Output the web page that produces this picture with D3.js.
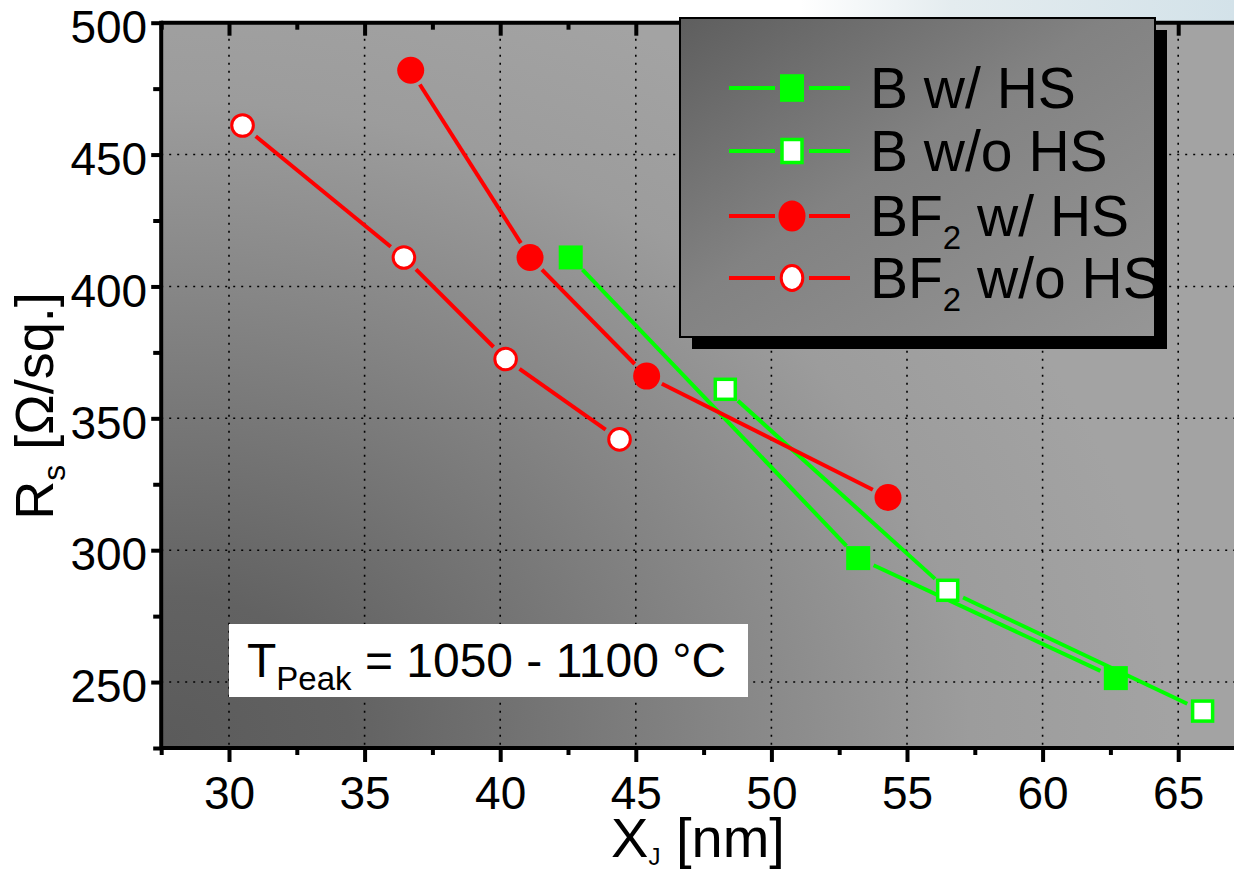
<!DOCTYPE html>
<html lang="en">
<head>
  <meta charset="UTF-8">
  <title>Sheet resistance vs junction depth</title>
  <script src="https://d3js.org/d3.v7.min.js"></script>
  <style>
    body { margin: 0; background: #fff; }
    svg { display: block; }
    text { font-family: "Liberation Sans", Arial, sans-serif; fill: #000; }
  </style>
</head>
<body>
  <svg width="1234" height="869"></svg>

  <script>
    // data
    const seriesNames = ["B w/ HS", "B w/o HS", "BF2 w/ HS", "BF2 w/o HS"];
    const bWithX = [42.6, 53.2, 62.7];
    const bWithY = [411, 297, 251.5];
    const bWithoutX = [48.3, 56.5, 65.9];
    const bWithoutY = [361, 284.8, 239];
    const bf2WithX = [36.7, 41.1, 45.4, 54.3];
    const bf2WithY = [482, 411, 366, 320];
    const bf2WithoutX = [30.5, 36.45, 40.2, 44.4];
    const bf2WithoutY = [461, 411, 372.5, 342];

    const xTicks = [30, 35, 40, 45, 50, 55, 60, 65];
    const xMinor = [27.5, 32.5, 37.5, 42.5, 47.5, 52.5, 57.5, 62.5, 67.5];
    const yTicks = [250, 300, 350, 400, 450, 500];
    const yMinor = [225, 275, 325, 375, 425, 475];
    const yGrid = [250, 300, 350, 400, 450];

    const RED = "#ff0000", GREEN = "#00ff00";
    const series = [
      { name: seriesNames[0], xs: bWithX, ys: bWithY, color: GREEN, shape: "square", filled: true },
      { name: seriesNames[1], xs: bWithoutX, ys: bWithoutY, color: GREEN, shape: "square", filled: false },
      { name: seriesNames[2], xs: bf2WithX, ys: bf2WithY, color: RED, shape: "circle", filled: true },
      { name: seriesNames[3], xs: bf2WithoutX, ys: bf2WithoutY, color: RED, shape: "circle", filled: false }
    ];

    const svg = d3.select("svg");
    const x = d3.scaleLinear().domain([27.5, 67.5]).range([161.2, 1246]);
    const y = d3.scaleLinear().domain([225, 500]).range([748, 22.7]);

    const defs = svg.append("defs");
    const bg = defs.append("radialGradient").attr("id", "bg")
      .attr("gradientUnits", "userSpaceOnUse")
      .attr("cx", 170).attr("cy", 740).attr("r", 800)
      .attr("gradientTransform", "translate(170,740) scale(1.25,1) translate(-170,-740)");
    [[0, "#5b5b5b"], [0.18, "#626262"], [0.55, "#858585"], [0.8, "#9c9c9c"], [1, "#a3a3a3"]]
      .forEach(s => bg.append("stop").attr("offset", s[0]).attr("stop-color", s[1]));
    const lg = defs.append("linearGradient").attr("id", "lg")
      .attr("x1", 0).attr("y1", 0).attr("x2", 1).attr("y2", 1);
    [[0, "#5e5e5e"], [0.45, "#828282"], [1, "#969696"]]
      .forEach(s => lg.append("stop").attr("offset", s[0]).attr("stop-color", s[1]));
    const sky = defs.append("linearGradient").attr("id", "sky");
    [[0, "#ffffff"], [0.35, "#e4ecef"], [1, "#d3e2e9"]]
      .forEach(s => sky.append("stop").attr("offset", s[0]).attr("stop-color", s[1]));

    svg.append("rect").attr("x", 800).attr("y", 0).attr("width", 434).attr("height", 24)
      .attr("fill", "url(#sky)");

    // plot background
    svg.append("rect")
      .attr("x", x(27.5)).attr("y", y(500))
      .attr("width", x(67.5) - x(27.5)).attr("height", y(225) - y(500))
      .attr("fill", "url(#bg)");

    // dotted grid
    const grid = svg.append("g").attr("stroke", "#000").attr("stroke-width", 1.6)
      .attr("stroke-dasharray", "2,6");
    grid.selectAll(".gx").data(xTicks).enter().append("line")
      .attr("x1", d => x(d)).attr("x2", d => x(d))
      .attr("y1", y(500)).attr("y2", y(225));
    grid.selectAll(".gy").data(yGrid).enter().append("line")
      .attr("x1", x(27.5)).attr("x2", x(67.5))
      .attr("y1", d => y(d)).attr("y2", d => y(d));

    // temperature note
    svg.append("rect").attr("x", x(30)).attr("y", 624).attr("width", 519).attr("height", 73)
      .attr("fill", "#fff");
    const note = svg.append("text").attr("x", 247).attr("y", 677).style("font-size", "48px");
    note.append("tspan").text("T");
    note.append("tspan").attr("dy", 13).style("font-size", "33px").text("Peak");
    note.append("tspan").attr("dy", -13).text(" = 1050 - 1100 °C");

    // lines with a small gap at each marker
    const GAP = 17;
    function segments(s) {
      const pts = s.xs.map((v, i) => [x(v), y(s.ys[i])]);
      const out = [];
      for (let i = 0; i < pts.length - 1; i++) {
        const [x1, y1] = pts[i], [x2, y2] = pts[i + 1];
        const len = Math.hypot(x2 - x1, y2 - y1);
        const ux = (x2 - x1) / len, uy = (y2 - y1) / len;
        out.push([x1 + ux * GAP, y1 + uy * GAP, x2 - ux * GAP, y2 - uy * GAP]);
      }
      return out;
    }

    function marker(g, s, cx, cy, sy = 1) {
      if (s.shape === "square") {
        if (s.filled) {
          g.append("rect").attr("x", cx - 12).attr("y", cy - 12 * sy).attr("width", 24).attr("height", 24 * sy)
            .attr("fill", s.color);
        } else {
          g.append("rect").attr("x", cx - 10).attr("y", cy - 10 * sy).attr("width", 20).attr("height", 20 * sy)
            .attr("fill", "#fff").attr("stroke", s.color).attr("stroke-width", 3.5);
        }
      } else {
        if (s.filled) {
          g.append("ellipse").attr("cx", cx).attr("cy", cy).attr("rx", 13.5).attr("ry", 13.5 * sy)
            .attr("fill", s.color);
        } else {
          g.append("ellipse").attr("cx", cx).attr("cy", cy).attr("rx", 10.8).attr("ry", 10.8 * sy)
            .attr("fill", "#fff").attr("stroke", s.color).attr("stroke-width", 3);
        }
      }
    }

    const plot = svg.append("g");
    series.forEach(s => {
      plot.selectAll(null).data(segments(s)).enter().append("line")
        .attr("x1", d => d[0]).attr("y1", d => d[1]).attr("x2", d => d[2]).attr("y2", d => d[3])
        .attr("stroke", s.color).attr("stroke-width", 4);
    });
    series.forEach(s => {
      s.xs.forEach((v, i) => marker(plot, s, x(v), y(s.ys[i])));
    });

    // axes
    const axisStyle = g => {
      g.select(".domain").remove();
      g.selectAll("line").attr("stroke", "#000").attr("stroke-width", 4);
      g.selectAll("text").style("font-size", "46px").attr("fill", "#000");
    };

    svg.append("g").attr("transform", `translate(${x(27.5)},0)`)
      .call(d3.axisLeft(y).tickValues(yTicks).tickSize(10).tickPadding(4).tickFormat(d3.format("d")))
      .call(axisStyle)
      .call(g => g.selectAll("text").attr("dy", "0.43em").attr("font-family", null));
    svg.append("g").attr("transform", `translate(${x(27.5)},0)`)
      .call(d3.axisLeft(y).tickValues(yMinor).tickSize(8).tickFormat(""))
      .call(axisStyle);

    svg.append("g").attr("transform", `translate(0,${y(225)})`)
      .call(d3.axisBottom(x).tickValues(xTicks).tickSize(14).tickPadding(14))
      .call(axisStyle)
      .call(g => g.selectAll("text").attr("font-family", null));
    svg.append("g").attr("transform", `translate(0,${y(225)})`)
      .call(d3.axisBottom(x).tickValues(xMinor).tickSize(7).tickFormat(""))
      .call(axisStyle);

    svg.append("g").attr("transform", `translate(0,${y(500)})`)
      .call(d3.axisBottom(x).tickValues(xTicks).tickSize(13).tickFormat(""))
      .call(axisStyle);
    svg.append("g").attr("transform", `translate(0,${y(500)})`)
      .call(d3.axisBottom(x).tickValues(xMinor).tickSize(7).tickFormat(""))
      .call(axisStyle);

    // frame
    const frame = svg.append("g").attr("stroke", "#000").attr("stroke-width", 4);
    frame.append("line").attr("x1", x(27.5)).attr("x2", x(27.5)).attr("y1", y(500) - 2).attr("y2", y(225) + 2);
    frame.append("line").attr("x1", x(27.5)).attr("x2", x(67.5)).attr("y1", y(225)).attr("y2", y(225));
    frame.append("line").attr("x1", x(27.5)).attr("x2", x(67.5)).attr("y1", y(500)).attr("y2", y(500));

    // axis titles
    const xt = svg.append("text").attr("x", 698).attr("y", 857).attr("text-anchor", "middle")
      .style("font-size", "56px");
    xt.append("tspan").text("X");
    xt.append("tspan").attr("dy", 8).style("font-size", "24px").text("J");
    xt.append("tspan").attr("dy", -8).text(" [nm]");

    const yt = svg.append("text").attr("transform", "translate(53,406) rotate(-90)")
      .attr("text-anchor", "middle").style("font-size", "54px");
    yt.append("tspan").text("R");
    yt.append("tspan").attr("dy", 12).style("font-size", "32px").text("s");
    yt.append("tspan").attr("dy", -12).text(" [Ω/sq.]");

    // legend
    const lx = 680, ly = 18, lw = 475, lh = 319;
    svg.append("rect").attr("x", lx + 12).attr("y", ly + 12).attr("width", lw).attr("height", lh)
      .attr("fill", "#000");
    svg.append("rect").attr("x", lx).attr("y", ly).attr("width", lw).attr("height", lh)
      .attr("fill", "url(#lg)").attr("stroke", "#000").attr("stroke-width", 2);
    const rowY = [88, 151, 216, 278];
    series.forEach((s, i) => {
      const g = svg.append("g");
      const cy = rowY[i];
      g.append("line").attr("x1", 729).attr("x2", 775).attr("y1", cy).attr("y2", cy)
        .attr("stroke", s.color).attr("stroke-width", 4);
      g.append("line").attr("x1", 809).attr("x2", 850).attr("y1", cy).attr("y2", cy)
        .attr("stroke", s.color).attr("stroke-width", 4);
      marker(g, s, 792, cy, 1.15);
      const t = g.append("text").attr("x", 870).attr("y", cy + 20).style("font-size", "57px");
      if (s.name.startsWith("BF2")) {
        t.append("tspan").text("BF");
        t.append("tspan").attr("dy", 13).style("font-size", "33px").text("2");
        t.append("tspan").attr("dy", -13).text(s.name.slice(3));
      } else {
        t.text(s.name);
      }
    });
  </script>
</body>
</html>
